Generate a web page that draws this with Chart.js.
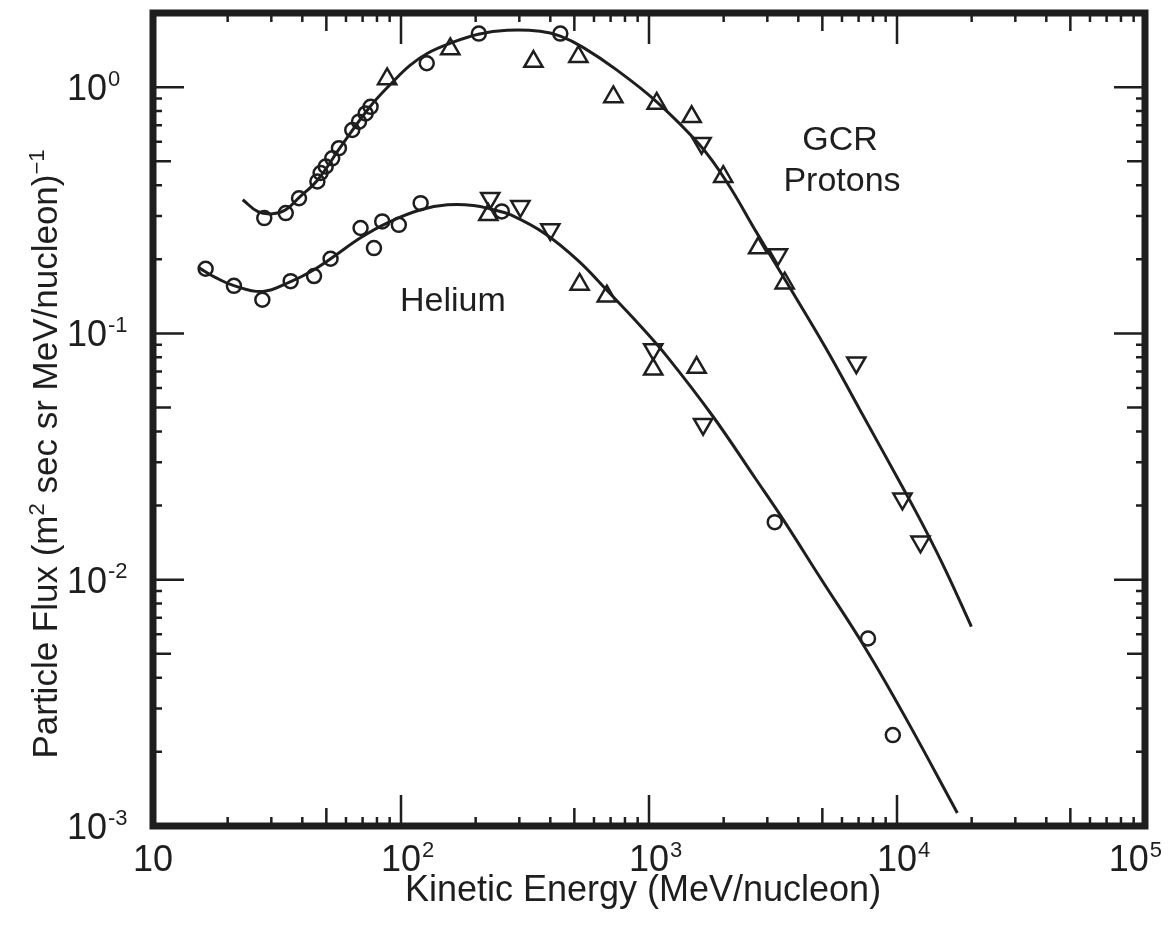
<!DOCTYPE html>
<html>
<head>
<meta charset="utf-8">
<script src="https://cdn.jsdelivr.net/npm/chart.js@4.4.1/dist/chart.umd.min.js"></script>
<style>
  body { margin: 0; background: #fff; }
  canvas { display: block; }
</style>
</head>
<body>
<canvas id="myChart" width="1171" height="937"></canvas>
<script>
// values (energy in MeV/nucleon, flux in (m2 sec sr MeV/nucleon)^-1)
const protonCurveE = [23, 26.5, 30.4, 34.3, 38.7, 46.1, 57.1, 75.4, 93.3, 109, 128, 158, 205, 268, 364, 439, 542, 743, 1077, 1603, 2059, 2721, 3593, 5203, 7066, 10520, 12900, 15810, 19950]
const protonCurveFlux = [0.349, 0.312, 0.306, 0.318, 0.355, 0.42, 0.572, 0.838, 1.057, 1.228, 1.373, 1.507, 1.639, 1.701, 1.686, 1.61, 1.45, 1.172, 0.87, 0.582, 0.412, 0.256, 0.161, 0.0861, 0.0492, 0.0238, 0.01624, 0.01077, 0.00645]

const heliumCurveE = [15.3, 17.9, 21.2, 27.7, 35.9, 43.2, 52, 68.7, 88.2, 120, 154, 196, 236, 276, 381, 518, 678, 920, 1181, 1809, 2695, 3462, 4875, 7467, 10920, 17510]
const heliumCurveFlux = [0.185, 0.1685, 0.1564, 0.148, 0.1624, 0.178, 0.201, 0.2446, 0.2813, 0.3177, 0.3329, 0.331, 0.3177, 0.3034, 0.254, 0.1975, 0.1493, 0.1077, 0.0807, 0.0461, 0.02564, 0.01766, 0.01028, 0.00526, 0.00271, 0.00113]

const protonCircleE = [28.1, 34.3, 38.8, 46, 47.4, 49.7, 52.8, 56.2, 63.6, 67.7, 72, 75.4, 127, 206, 439]
const protonCircleFlux = [0.294, 0.308, 0.354, 0.414, 0.448, 0.476, 0.514, 0.565, 0.67, 0.724, 0.782, 0.832, 1.25, 1.65, 1.65]
const protonUpE = [87.9, 158, 342, 519, 718, 1074, 1486, 1992, 2755, 3525]
const protonUpFlux = [1.08, 1.43, 1.27, 1.33, 0.913, 0.859, 0.758, 0.433, 0.222, 0.16]
const protonDownE = [1629, 3311, 6853, 10520, 12440]
const protonDownFlux = [0.592, 0.209, 0.0761, 0.0213, 0.01426]

const heliumCircleE = [16.3, 21.2, 27.6, 35.9, 44.6, 52, 68.7, 77.8, 84, 98, 120, 255, 3214, 7640, 9620]
const heliumCircleFlux = [0.183, 0.156, 0.137, 0.163, 0.171, 0.201, 0.268, 0.222, 0.285, 0.276, 0.338, 0.313, 0.01713, 0.00577, 0.00234]
const heliumUpE = [225, 525, 676, 1040, 1556]
const heliumUpFlux = [0.303, 0.158, 0.1416, 0.0715, 0.0727]
const heliumDownE = [229, 303, 400, 1040, 1652]
const heliumDownFlux = [0.354, 0.328, 0.264, 0.0861, 0.0428]

// tick labels: base "10" with superscript exponent
const xTickValues = [10, 100, 1000, 10000, 100000]
const xTickExps = ['', '2', '3', '4', '5']
const yTickValues = [1, 0.1, 0.01, 0.001]
const yTickExps = ['0', '-1', '-2', '-3']

const xTitle = 'Kinetic Energy (MeV/nucleon)'
const yTitleParts = [['Particle Flux (m', false], ['2', true], [' sec sr MeV/nucleon)', false], ['\u22121', true]]
const labelGcr = ['GCR', 'Protons']
const labelHelium = 'Helium'

const ink = '#1e1e1e'
const fontName = '"Liberation Sans", Arial, Helvetica, sans-serif'

const pts = (xs, ys) => xs.map((x, i) => ({ x: x, y: ys[i] }))

const curve = (label, xs, ys) => ({
    label: label,
    data: pts(xs, ys),
    showLine: true,
    borderColor: ink,
    borderWidth: 3,
    pointRadius: 0,
    tension: 0.4,
    fill: false,
})

const markers = (label, xs, ys, style, rotation) => ({
    label: label,
    data: pts(xs, ys),
    showLine: false,
    pointStyle: style,
    rotation: rotation,
    pointRadius: style === 'circle' ? 7 : 10.5,
    pointBorderWidth: 2.5,
    pointBorderColor: ink,
    pointBackgroundColor: 'rgba(0,0,0,0)',
})

const drawPower = (ctx, exp, x, y, size, align) => {
    ctx.font = size + 'px ' + fontName
    const wBase = ctx.measureText('10').width
    let left = align === 'center' ? x - wBase / 2 : x
    if (align === 'end') {
        ctx.font = Math.round(size * 0.62) + 'px ' + fontName
        left = x - wBase - ctx.measureText(exp).width
        ctx.font = size + 'px ' + fontName
    }
    ctx.textAlign = 'left'
    ctx.fillText('10', left, y)
    if (exp) {
        ctx.font = Math.round(size * 0.62) + 'px ' + fontName
        ctx.fillText(exp, left + wBase + 1, y - size * 0.4)
    }
}

const frameAndText = {
    id: 'frameAndText',
    afterDraw(chart) {
        const { ctx, chartArea: a, scales: { x, y } } = chart
        ctx.save()
        ctx.strokeStyle = ink
        ctx.fillStyle = ink
        ctx.lineCap = 'butt'

        // inward ticks on all four sides
        ctx.lineWidth = 2.5
        ctx.beginPath()
        for (let d = 10; d < 100000; d *= 10) {
            for (let m = 1; m <= 9; m++) {
                const px = x.getPixelForValue(m * d)
                const len = m === 1 ? 31 : (m === 5 ? 18 : 9)
                ctx.moveTo(px, a.bottom); ctx.lineTo(px, a.bottom - len)
                ctx.moveTo(px, a.top); ctx.lineTo(px, a.top + len)
            }
        }
        for (let d = 0.001; d < 2; d *= 10) {
            for (let m = 1; m <= 9; m++) {
                const v = m * d
                if (v >= 2) break
                const py = y.getPixelForValue(v)
                const len = m === 1 ? 31 : (m === 5 ? 18 : 9)
                ctx.moveTo(a.left, py); ctx.lineTo(a.left + len, py)
                ctx.moveTo(a.right, py); ctx.lineTo(a.right - len, py)
            }
        }
        ctx.stroke()

        // heavy frame
        ctx.lineWidth = 7
        ctx.strokeRect(a.left, a.top, a.right - a.left, a.bottom - a.top)

        // tick labels
        ctx.textBaseline = 'alphabetic'
        xTickValues.forEach((v, i) => {
            const last = i === xTickValues.length - 1
            const px = x.getPixelForValue(v)
            drawPower(ctx, xTickExps[i], last ? px + 16 : px, 871, 36, last ? 'end' : 'center')
        })
        yTickValues.forEach((v, i) => {
            drawPower(ctx, yTickExps[i], 67, y.getPixelForValue(v) + 13, 36, 'left')
        })

        // axis titles
        ctx.font = '36px ' + fontName
        ctx.textAlign = 'center'
        ctx.fillText(xTitle, 643, 901)

        ctx.save()
        ctx.translate(57, 454)
        ctx.rotate(-Math.PI / 2)
        let total = 0
        yTitleParts.forEach(([t, sup]) => {
            ctx.font = (sup ? 22 : 35) + 'px ' + fontName
            total += ctx.measureText(t).width
        })
        let cx = -total / 2
        ctx.textAlign = 'left'
        yTitleParts.forEach(([t, sup]) => {
            ctx.font = (sup ? 22 : 35) + 'px ' + fontName
            ctx.fillText(t, cx, sup ? -13 : 0)
            cx += ctx.measureText(t).width
        })
        ctx.restore()

        // curve labels
        ctx.font = '34px ' + fontName
        ctx.textAlign = 'center'
        ctx.fillText(labelGcr[0], 840, 150)
        ctx.fillText(labelGcr[1], 842, 191)
        ctx.textAlign = 'left'
        ctx.fillText(labelHelium, 400, 311)
        ctx.restore()
    }
}

const ctx = document.querySelector('#myChart').getContext('2d')

new Chart(ctx, {
    type: 'scatter',
    data: {
        datasets: [
            curve('GCR Protons fit', protonCurveE, protonCurveFlux),
            curve('Helium fit', heliumCurveE, heliumCurveFlux),
            markers('Protons (circles)', protonCircleE, protonCircleFlux, 'circle', 0),
            markers('Protons (up)', protonUpE, protonUpFlux, 'triangle', 0),
            markers('Protons (down)', protonDownE, protonDownFlux, 'triangle', 180),
            markers('Helium (circles)', heliumCircleE, heliumCircleFlux, 'circle', 0),
            markers('Helium (up)', heliumUpE, heliumUpFlux, 'triangle', 0),
            markers('Helium (down)', heliumDownE, heliumDownFlux, 'triangle', 180),
        ],
    },
    options: {
        responsive: false,
        animation: false,
        devicePixelRatio: 1,
        layout: { padding: { top: 13, right: 26, left: 0, bottom: 0 } },
        plugins: {
            legend: { display: false },
            tooltip: { enabled: false },
        },
        scales: {
            x: {
                type: 'logarithmic',
                min: 10,
                max: 100000,
                ticks: { display: false },
                grid: { display: false },
                border: { display: false },
                afterFit: s => { s.height = 111 },
            },
            y: {
                type: 'logarithmic',
                min: 0.001,
                max: 2,
                ticks: { display: false },
                grid: { display: false },
                border: { display: false },
                afterFit: s => { s.width = 153 },
            },
        },
    },
    plugins: [frameAndText],
})
</script>
</body>
</html>
